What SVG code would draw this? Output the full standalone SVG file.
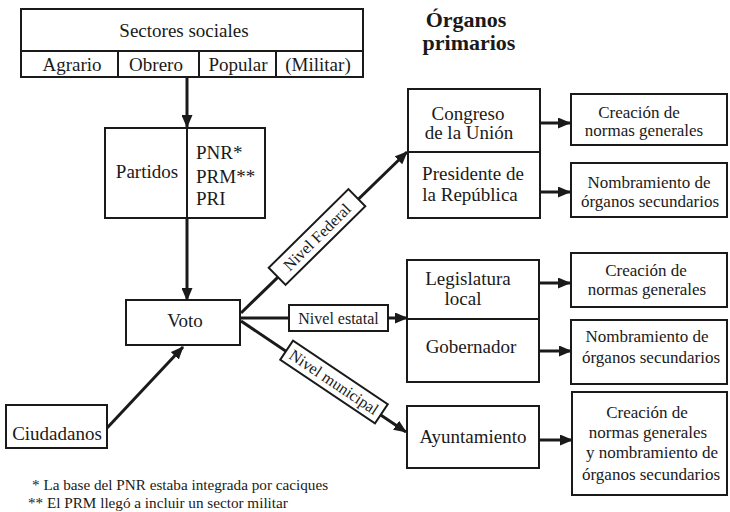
<svg xmlns="http://www.w3.org/2000/svg" width="730" height="512" viewBox="0 0 730 512" font-family="'Liberation Serif', 'DejaVu Serif', serif">
<defs>
<marker id="ah" markerUnits="userSpaceOnUse" markerWidth="13" markerHeight="11" refX="12" refY="5.5" orient="auto">
<path d="M0,0 L13,5.5 L0,11 z" fill="#1a1a1a"/>
</marker>
<style>
text{font-family:'Liberation Serif','DejaVu Serif',serif;fill:#1a1a1a}
.m{font-size:19px;text-anchor:middle}
.l{font-size:19px}
.r{font-size:17px;text-anchor:middle}
.lab{font-size:16px;text-anchor:middle}
.h{font-size:22px;font-weight:bold;text-anchor:middle}
.fn{font-size:15.2px}
.box{fill:#fff;stroke:#1a1a1a;stroke-width:2}
.ln{stroke:#1a1a1a;stroke-width:3;fill:none}
.dv{stroke:#1a1a1a;stroke-width:2;fill:none}
</style>
</defs>
<rect width="730" height="512" fill="#fff"/>

<g id="connectors">
<line class="ln" x1="187" y1="77" x2="187" y2="127" marker-end="url(#ah)"/>
<line class="ln" x1="187" y1="218" x2="187" y2="300" marker-end="url(#ah)"/>
<line class="ln" x1="107" y1="428" x2="183" y2="347" marker-end="url(#ah)"/>
<line class="ln" x1="241" y1="313" x2="407" y2="152" marker-end="url(#ah)"/>
<line class="ln" x1="241" y1="318" x2="407" y2="318" marker-end="url(#ah)"/>
<line class="ln" x1="241" y1="321" x2="406" y2="432" marker-end="url(#ah)"/>
<line class="ln" x1="540" y1="123" x2="570" y2="123" marker-end="url(#ah)"/>
<line class="ln" x1="540" y1="192" x2="570" y2="192" marker-end="url(#ah)"/>
<line class="ln" x1="540" y1="283" x2="570" y2="283" marker-end="url(#ah)"/>
<line class="ln" x1="540" y1="351" x2="571" y2="351" marker-end="url(#ah)"/>
<line class="ln" x1="540" y1="440" x2="572" y2="440" marker-end="url(#ah)"/>
</g>

<g id="sectores">
<rect class="box" x="21" y="9" width="342" height="68"/>
<line class="dv" x1="21" y1="51" x2="363" y2="51"/>
<line class="dv" x1="118" y1="51" x2="118" y2="77"/>
<line class="dv" x1="199" y1="51" x2="199" y2="77"/>
<line class="dv" x1="276" y1="51" x2="276" y2="77"/>
<text class="m" x="184" y="37">Sectores sociales</text>
<text class="m" x="72" y="71">Agrario</text>
<text class="m" x="156" y="71">Obrero</text>
<text class="m" x="238" y="71">Popular</text>
<text class="m" x="318" y="71">(Militar)</text>
</g>

<g id="organos-title">
<text class="h" x="466" y="27">Órganos</text>
<text class="h" x="469" y="50">primarios</text>
</g>

<g id="partidos">
<rect class="box" x="105" y="128" width="160" height="90"/>
<line class="dv" x1="187" y1="128" x2="187" y2="218"/>
<text class="m" x="147" y="178">Partidos</text>
<text class="l" x="196" y="159">PNR*</text>
<text class="l" x="196" y="183">PRM**</text>
<text class="l" x="196" y="205">PRI</text>
</g>

<g id="voto">
<rect class="box" x="126" y="300" width="114" height="45"/>
<text class="m" x="185" y="327">Voto</text>
</g>

<g id="ciudadanos">
<rect class="box" x="6" y="405" width="101" height="43"/>
<text class="m" x="57" y="440">Ciudadanos</text>
</g>

<g id="nivel-federal" transform="translate(317,237) rotate(-44.6)">
<rect class="box" x="-56" y="-12" width="112" height="24"/>
<text class="lab" x="0" y="5.5">Nivel Federal</text>
</g>

<g id="nivel-estatal">
<rect class="box" x="289" y="305" width="99" height="26"/>
<text class="lab" x="338.5" y="324">Nivel estatal</text>
</g>

<g id="nivel-municipal" transform="translate(334,382) rotate(33.8)">
<rect class="box" x="-57" y="-11.5" width="114" height="23"/>
<text class="lab" x="0" y="5.5">Nivel municipal</text>
</g>

<g id="federal">
<rect class="box" x="408" y="89" width="132" height="129"/>
<line class="dv" x1="408" y1="152" x2="540" y2="152"/>
<text class="m" x="468" y="120">Congreso</text>
<text class="m" x="469" y="139">de la Unión</text>
<text class="m" x="473" y="180">Presidente de</text>
<text class="m" x="470" y="201">la República</text>
</g>

<g id="federal-creacion">
<rect class="box" x="571" y="94" width="156" height="51"/>
<text class="r" x="639" y="118">Creación de</text>
<text class="r" x="644" y="136">normas generales</text>
</g>

<g id="federal-nombramiento">
<rect class="box" x="571" y="163" width="156" height="54"/>
<text class="r" x="649" y="188">Nombramiento de</text>
<text class="r" x="650" y="207">órganos secundarios</text>
</g>

<g id="estatal">
<rect class="box" x="407" y="260" width="132" height="122"/>
<line class="dv" x1="407" y1="319" x2="539" y2="319"/>
<text class="m" x="468" y="285">Legislatura</text>
<text class="m" x="463" y="305">local</text>
<text class="m" x="471" y="353">Gobernador</text>
</g>

<g id="estatal-creacion">
<rect class="box" x="571" y="253" width="156" height="54"/>
<text class="r" x="646" y="276">Creación de</text>
<text class="r" x="647" y="295">normas generales</text>
</g>

<g id="estatal-nombramiento">
<rect class="box" x="571" y="320" width="156" height="64"/>
<text class="r" x="647" y="342">Nombramiento de</text>
<text class="r" x="651" y="363">órganos secundarios</text>
</g>

<g id="ayuntamiento">
<rect class="box" x="407" y="406" width="132" height="62"/>
<text class="m" x="473" y="443">Ayuntamiento</text>
</g>

<g id="municipal-funciones">
<rect class="box" x="572" y="392" width="155" height="103"/>
<text class="r" x="647" y="418">Creación de</text>
<text class="r" x="648" y="438">normas generales</text>
<text class="r" x="652" y="458">y nombramiento de</text>
<text class="r" x="651" y="480">órganos secundarios</text>
</g>

<g id="footnotes">
<text class="fn" x="32" y="490">*  La base del PNR estaba integrada por caciques</text>
<text class="fn" x="28" y="508">** El PRM llegó a incluir un sector militar</text>
</g>
</svg>
